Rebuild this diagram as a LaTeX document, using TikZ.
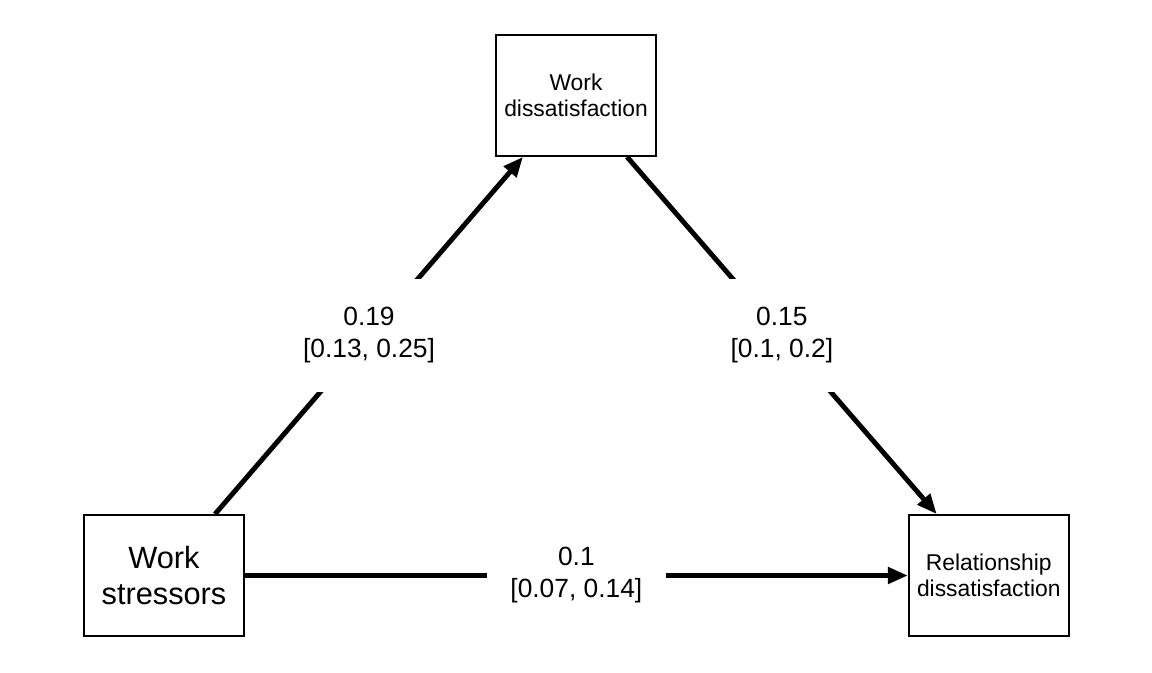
\documentclass[tikz,border=0pt]{standalone}
\usepackage{fontspec}
\setmainfont{Liberation Sans}
\usetikzlibrary{arrows.meta,calc,positioning}
\tikzstyle{var}=[draw,line width=1pt,minimum width=3.2cm,minimum height=2.42cm,align=center,font=\fontsize{13}{15}\selectfont]
\tikzstyle{varbig}=[var,font=\fontsize{17.5}{21}\selectfont]
\tikzstyle{coef}=[fill=white,align=center,inner xsep=0.47cm,inner ysep=0.58cm,font=\fontsize{15}{18.2}\selectfont]
\tikzstyle{path}=[line width=2.8pt,-{Triangle[length=0.4cm,width=0.32cm]}]

\begin{document}
\begin{tikzpicture}[>=latex]
    \useasboundingbox (0,0) rectangle (23.04,13.44);
    \node [var] (wd) at (11.52,11.53) {Work\\dissatisfaction};
    \node [varbig] (ws) at (3.28,1.93) {Work\\stressors};
    \node [var] (rd) [node distance=13.26cm,right=of ws] {Relationship\\dissatisfaction};

      \draw[path] ([xshift=1.02cm]ws.north) -- ([xshift=-1.06cm]wd.south) node[coef,midway] {0.19\\{}[0.13, 0.25]};
      \draw[path] ([xshift=1.02cm]wd.south) -- ([xshift=-1.04cm]rd.north) node[coef,midway] {0.15\\{}[0.1, 0.2]};
      \draw[path] (ws) -- (rd) node[coef,midway] {0.1\\{}[0.07, 0.14]};
    \end{tikzpicture}
\end{document}
